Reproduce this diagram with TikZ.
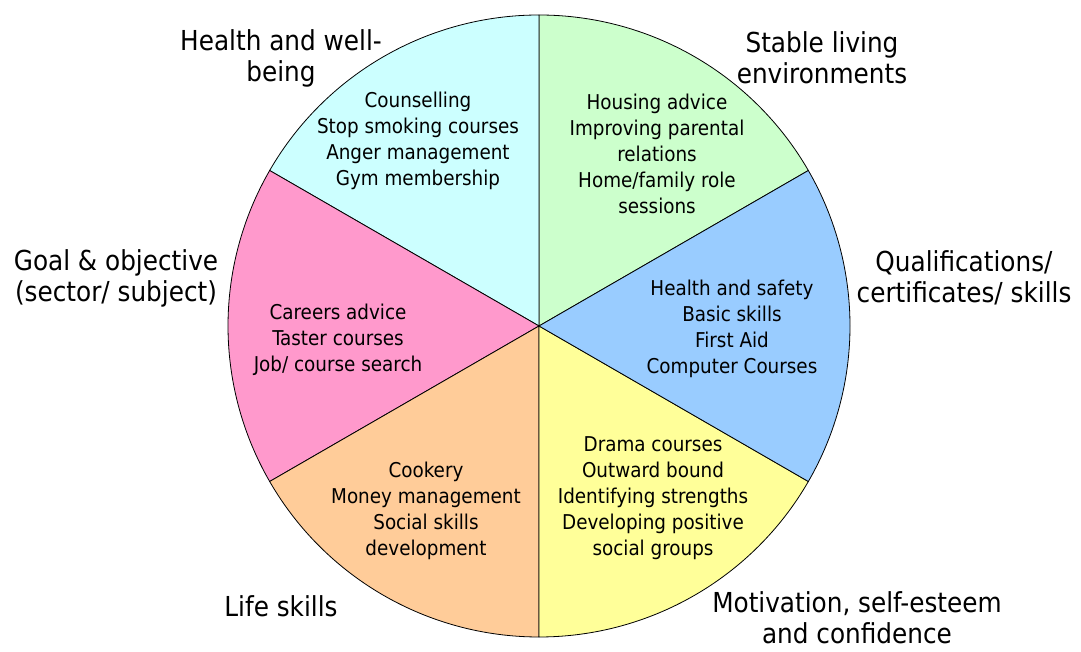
\documentclass[tikz,border=0pt]{standalone}
\usepackage{fontspec}
\setmainfont{DejaVu Sans Condensed}

\tikzstyle{item} = [align=center, font=\fontsize{20.4}{26}\selectfont, inner sep=0pt]
\tikzstyle{area} = [align=center, font=\fontsize{27.5}{31}\selectfont, inner sep=0pt]
\tikzstyle{slice} = [draw=black, line width=0.8pt]

\definecolor{healthcol}{HTML}{CCFFFF}
\definecolor{livingcol}{HTML}{CCFFCC}
\definecolor{qualcol}{HTML}{99CCFF}
\definecolor{motivcol}{HTML}{FFFF99}
\definecolor{lifecol}{HTML}{FFCC99}
\definecolor{goalcol}{HTML}{FF99CC}

\begin{document}
\begin{tikzpicture}[x=1pt, y=1pt]
\useasboundingbox (0,0) rectangle (1081,652);

\coordinate (c) at (539,326);

% sectors of the wheel
\filldraw [slice, fill=livingcol] (c) -- ++(30:311) arc[start angle=30, end angle=90, radius=311] -- cycle;
\filldraw [slice, fill=healthcol] (c) -- ++(90:311) arc[start angle=90, end angle=150, radius=311] -- cycle;
\filldraw [slice, fill=goalcol] (c) -- ++(150:311) arc[start angle=150, end angle=210, radius=311] -- cycle;
\filldraw [slice, fill=lifecol] (c) -- ++(210:311) arc[start angle=210, end angle=270, radius=311] -- cycle;
\filldraw [slice, fill=motivcol] (c) -- ++(270:311) arc[start angle=270, end angle=330, radius=311] -- cycle;
\filldraw [slice, fill=qualcol] (c) -- ++(330:311) arc[start angle=330, end angle=390, radius=311] -- cycle;

% contents of the sectors
\node (healthitems) [item] at (418,511) {Counselling\\Stop smoking courses\\Anger management\\Gym membership};
\node (livingitems) [item] at (657,498) {Housing advice\\Improving parental\\relations\\Home/family role\\sessions};
\node (qualitems) [item] at (732,323) {Health and safety\\Basic skills\\First Aid\\Computer Courses};
\node (goalitems) [item] at (338,312) {Careers advice\\Taster courses\\Job/ course search};
\node (lifeitems) [item] at (426,141) {Cookery\\Money management\\Social skills\\development};
\node (motivitems) [item] at (653,154) {Drama courses\\Outward bound\\Identifying strengths\\Developing positive\\social groups};

% outer labels
\node (health) [area] at (281,594) {Health and well-\\being};
\node (living) [area] at (822,594) {Stable living\\environments};
\node (goal) [area] at (116,374) {Goal \& objective\\(sector/ subject)};
\node (qual) [area] at (964,374) {Qualifications/\\certificates/ skills};
\node (life) [area] at (281,46) {Life skills};
\node (motiv) [area] at (857,34) {Motivation, self-esteem\\and confidence};
\end{tikzpicture}
\end{document}
